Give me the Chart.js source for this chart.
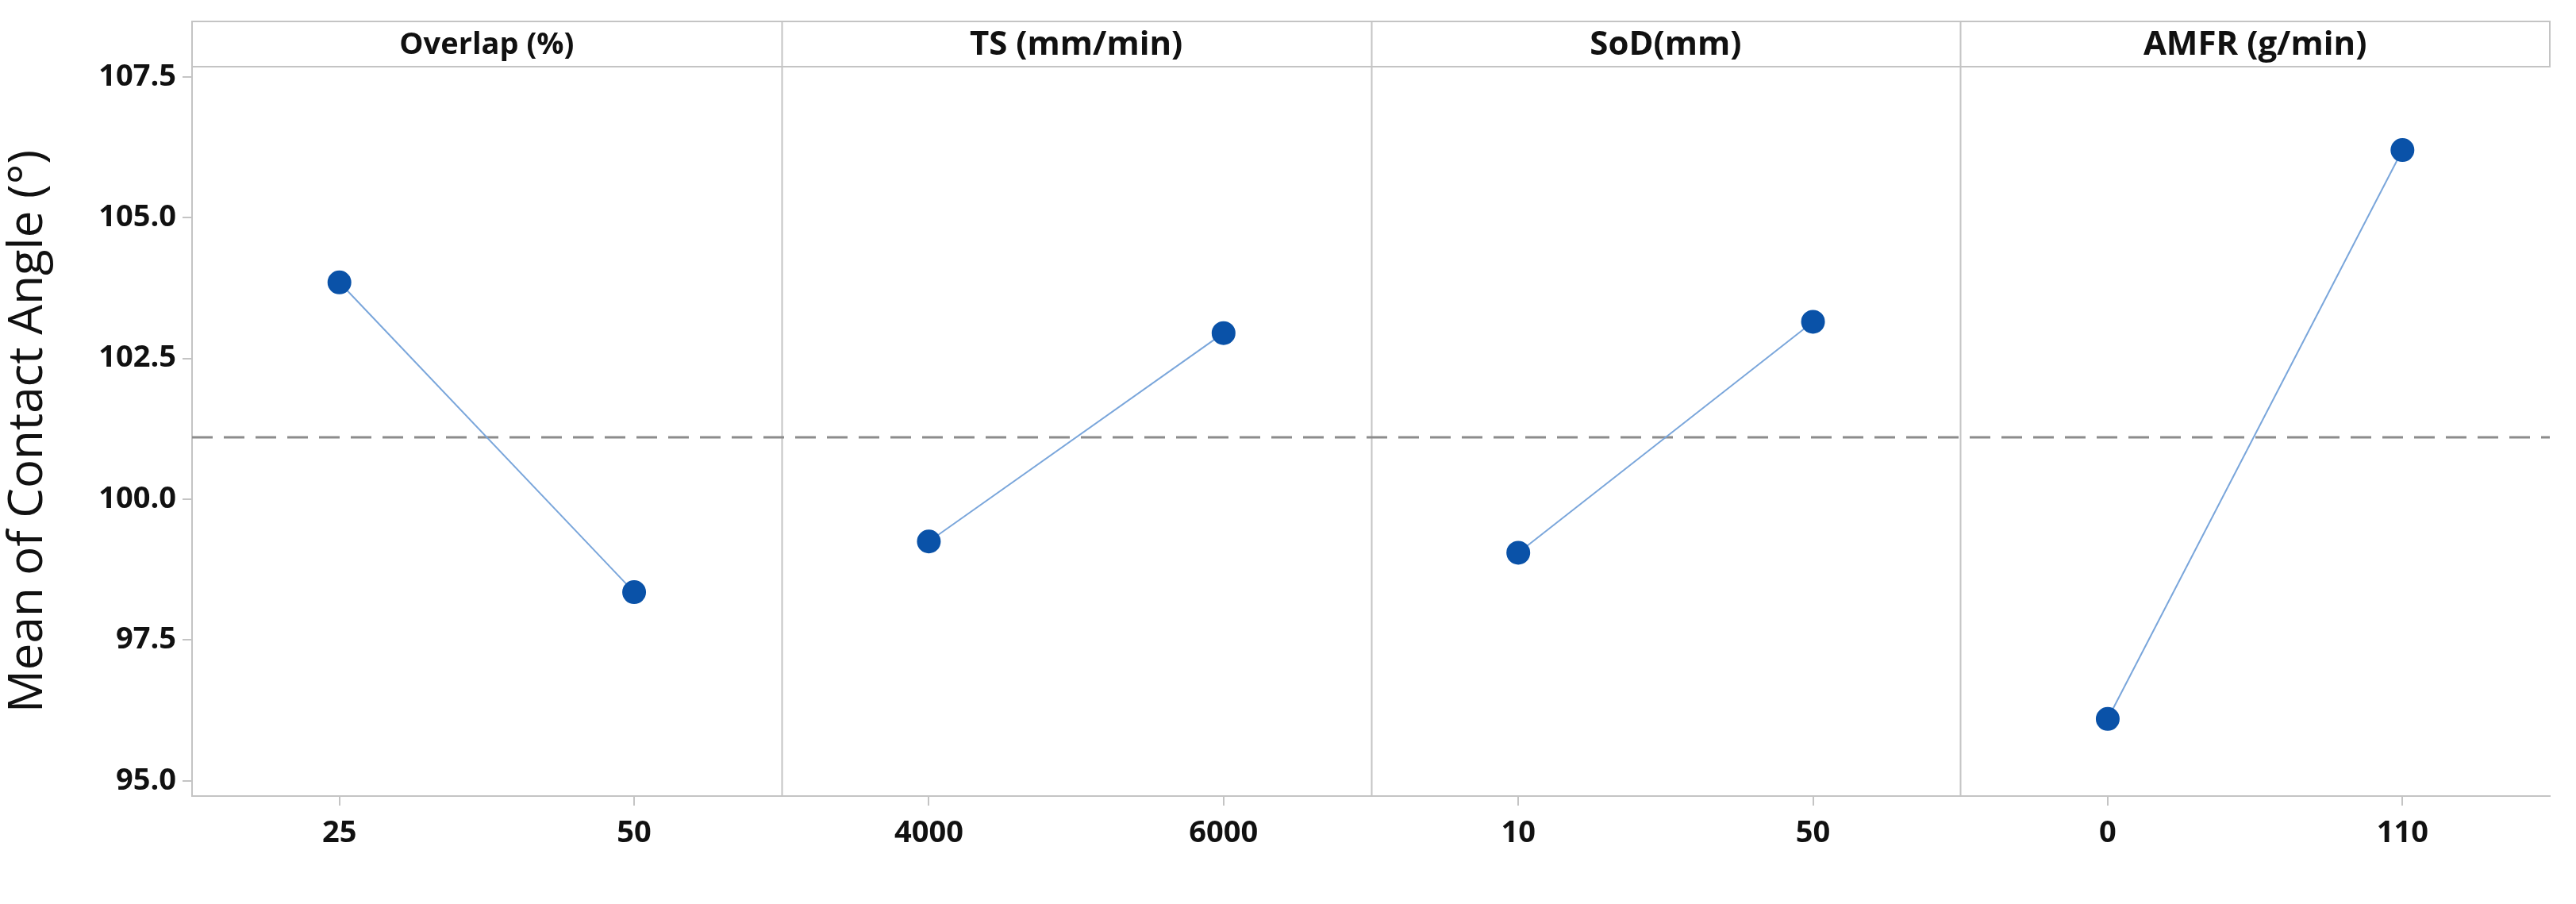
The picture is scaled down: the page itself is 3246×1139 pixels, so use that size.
<!DOCTYPE html>
<html>
<head>
<meta charset="utf-8">
<style>
  html, body { margin: 0; padding: 0; background: #fff; }
  #chart-holder { width: 3246px; height: 1139px; }
</style>
<script src="https://cdn.jsdelivr.net/npm/chart.js@4/dist/chart.umd.min.js"></script>
</head>
<body>
<div id="chart-holder"><canvas id="chart" width="3246" height="1139"></canvas></div>
<script>
// factors (one panel each) and their two levels
var factors = ['Overlap (%)', 'TS (mm/min)', 'SoD(mm)', 'AMFR (g/min)'];
var levels = [['25', '50'], ['4000', '6000'], ['10', '50'], ['0', '110']];
var means = [[103.85, 98.35], [99.25, 102.95], [99.05, 103.15], [96.1, 106.2]];
var grandMean = 101.1;
var yTicks = [95.0, 97.5, 100.0, 102.5, 105.0, 107.5];

var FONT = '"Open Sans", "Noto Sans", sans-serif';
var levelPos = [0.25, 0.75];   // where the two levels sit inside a panel

var datasets = [];
factors.forEach(function(f, p) {
  datasets.push({
    label: f,
    data: means[p].map(function(v, i) { return { x: p + levelPos[i], y: v }; }),
    borderColor: '#7aa6db',
    borderWidth: 2,
    pointRadius: 14,
    pointHoverRadius: 14,
    pointBackgroundColor: '#0a52a8',
    pointBorderColor: '#0a52a8',
    showLine: true
  });
});
datasets.push({
  label: 'mean',
  data: [{ x: 0, y: grandMean }, { x: factors.length, y: grandMean }],
  borderColor: '#8c8c8c',
  borderWidth: 3,
  borderDash: [26, 14],
  pointRadius: 0,
  showLine: true
});

// panel dividers + header strip with factor names
var panelPlugin = {
  id: 'panels',
  beforeDatasetsDraw: function(chart) {
    var c = chart.ctx, a = chart.chartArea, xs = chart.scales.x;
    c.save();
    c.strokeStyle = '#c4c4c4';
    c.lineWidth = 2;
    for (var p = 1; p < factors.length; p++) {
      var x = Math.round(xs.getPixelForValue(p)) + 0.5;
      c.beginPath(); c.moveTo(x, 27); c.lineTo(x, a.bottom); c.stroke();
    }
    c.restore();
  },
  afterDraw: function(chart) {
    var c = chart.ctx, a = chart.chartArea, xs = chart.scales.x;
    c.save();
    c.strokeStyle = '#c4c4c4';
    c.lineWidth = 2;
    c.strokeRect(a.left, 27, a.right - a.left, a.top - 27);
    c.fillStyle = '#111';
    c.textAlign = 'center';
    c.textBaseline = 'middle';
    factors.forEach(function(f, p) {
      c.font = 'bold ' + (p == 0 ? '38px ' : '42px ') + FONT;
      c.fillText(f, xs.getPixelForValue(p + 0.5), 57);
    });
    c.restore();
  }
};

var ctx = document.getElementById('chart').getContext('2d');
var chart = new Chart(ctx, {
  type: 'scatter',
  data: { datasets: datasets },
  plugins: [panelPlugin],
  options: {
    responsive: false,
    animation: false,
    devicePixelRatio: 1,
    layout: { padding: { top: 84, right: 33, left: 0, bottom: 0 } },
    plugins: { legend: { display: false }, tooltip: { enabled: false } },
    scales: {
      x: {
        type: 'linear',
        min: 0,
        max: factors.length,
        afterBuildTicks: function(axis) {
          var t = [];
          levels.forEach(function(l, p) {
            t.push({ value: p + levelPos[0] });
            t.push({ value: p + levelPos[1] });
          });
          axis.ticks = t;
        },
        afterFit: function(axis) { axis.height = 136; },
        ticks: {
          autoSkip: false,
          maxRotation: 0,
          padding: 12,
          color: '#111',
          font: { family: FONT, size: 38, weight: 'bold' },
          callback: function(v, i) {
            return levels[Math.floor(i / 2)][i % 2];
          }
        },
        grid: { drawOnChartArea: false, tickLength: 12, color: '#c4c4c4', lineWidth: 2 },
        border: { color: '#c4c4c4', width: 2 }
      },
      y: {
        min: 94.73,
        max: 107.68,
        afterBuildTicks: function(axis) {
          axis.ticks = yTicks.map(function(v) { return { value: v }; });
        },
        afterFit: function(axis) { axis.width = 242; },
        ticks: {
          padding: 8,
          color: '#111',
          font: { family: FONT, size: 38, weight: 'bold' },
          callback: function(v) { return v.toFixed(1); }
        },
        title: {
          display: true,
          text: 'Mean of Contact Angle (°)',
          color: '#111',
          padding: { top: 0, bottom: 2 },
          font: { family: FONT, size: 60, weight: '500' }
        },
        grid: { drawOnChartArea: false, tickLength: 12, color: '#c4c4c4', lineWidth: 2 },
        border: { color: '#c4c4c4', width: 2 }
      }
    }
  }
});
</script>
</body>
</html>
